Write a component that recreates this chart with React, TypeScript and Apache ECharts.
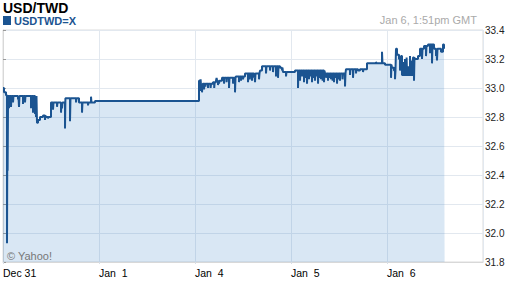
import React, { useEffect, useRef } from "react";
import * as echarts from "echarts";

// x values are trading hours since Dec 31 00:00 (weekend removed); 24 per trading day
const dayLabels = ["Dec 31", "Jan  1", "Jan  4", "Jan  5", "Jan  6"];
const yTicks = { min: 31.8, max: 33.4, step: 0.2 };

// step levels: [hour, rate]
const levelsDec31: [number, number][] = [
  [0, 33.0], [0.25, 32.97], [0.75, 32.95], [1.3, 32.945], [8.5, 32.76], [8.75, 32.78],
  [9.25, 32.8], [10, 32.81], [10.75, 32.8], [12, 32.9], [15.6, 32.93], [19, 32.9],
  [22.25, 32.9], [23, 32.91],
];
const levelsJan4: [number, number][] = [
  [49, 33.05], [49.5, 33.02], [50, 33.03], [52.5, 33.04], [53.25, 33.05], [54.75, 33.07],
  [58.25, 33.08], [60.5, 33.1], [64.25, 33.12], [64.75, 33.15], [69.25, 33.14], [70, 33.11],
];
const levelsJan5: [number, number][] = [
  [73, 33.12], [80.5, 33.1], [85.75, 33.13], [88.75, 33.12], [89.25, 33.13], [91, 33.17],
  [95.5, 33.16],
];
const levelsJan6: [number, number][] = [
  [97.25, 33.14], [97.75, 33.12], [98.25, 33.27], [98.5, 33.23], [99, 33.2], [99.5, 33.22],
  [99.75, 33.09], [102.5, 33.21], [103, 33.2], [103.75, 33.22], [104.25, 33.27],
  [105.25, 33.29], [106.25, 33.3], [107.75, 33.27], [109, 33.27], [109.5, 33.25],
  [110, 33.3], [110.25, 33.27], [110.4, 33.27],
];

// momentary ticks away from the level: [hour, rate]
const spikesDec31: [number, number][] = [
  [1.0, 31.93], [1.15, 32.43], [1.5, 32.86], [2.0, 32.87], [2.5, 32.9], [3.75, 32.92],
  [4.0, 32.87], [5.0, 32.89], [5.5, 32.9], [7.0, 32.86], [7.5, 32.83], [8.0, 32.82],
  [8.25, 32.8], [10.5, 32.78], [11.25, 32.79], [12.5, 32.85], [13.5, 32.87], [14.5, 32.83],
  [14.75, 32.86], [15.5, 32.72], [16.75, 32.77], [18.25, 32.9], [19.75, 32.83],
  [21.25, 32.88], [22.0, 32.94],
];
const spikesJan4: [number, number][] = [
  [49.25, 32.98], [49.4, 33.06], [49.75, 32.97], [50.25, 32.99], [50.6, 33.01], [51.25, 33.0],
  [51.9, 33.0], [52.8, 33.0], [53.4, 33.07], [53.75, 33.02], [54.0, 33.03], [55.25, 33.03],
  [55.9, 33.04], [56.5, 33.0], [57.5, 33.03], [58.0, 32.97], [59.0, 33.04], [59.5, 33.05],
  [60.0, 33.06], [61.25, 33.04], [61.7, 33.06], [62.25, 33.05], [62.8, 33.07], [63.0, 33.04],
  [64.0, 33.06], [65.75, 33.1], [66.75, 33.12], [67.5, 33.11], [68.25, 33.08], [68.75, 33.07],
  [69.75, 33.12], [70.75, 33.08],
];
const spikesJan5: [number, number][] = [
  [73.75, 33.0], [74.25, 33.05], [74.75, 33.08], [75.25, 33.04], [75.6, 33.07], [76.0, 33.03],
  [76.5, 33.06], [76.9, 33.08], [77.25, 33.04], [77.6, 33.07], [78.0, 33.05], [78.4, 33.08],
  [78.75, 33.03], [79.1, 33.07], [79.5, 33.06], [79.9, 33.05], [80.25, 33.04], [80.8, 33.07],
  [81.25, 33.05], [81.6, 33.07], [82.0, 33.06], [82.4, 33.05], [82.75, 33.04], [83.1, 33.07],
  [83.5, 33.03], [83.9, 33.06], [84.25, 33.05], [84.9, 33.06], [85.5, 33.01], [86.75, 33.09],
  [87.5, 33.07], [88.25, 33.1], [90.0, 33.11], [93.25, 33.18], [94.75, 33.25], [97.0, 33.07],
];
const spikesJan6: [number, number][] = [
  [98.0, 33.06], [99.25, 33.12], [100.1, 33.18], [100.5, 33.2], [100.9, 33.21], [101.4, 33.15],
  [101.75, 33.22], [102.1, 33.19], [102.75, 33.05], [104.75, 33.2], [105.75, 33.22],
  [106.75, 33.24], [107.25, 33.17], [108.25, 33.22], [108.5, 33.19],
];

const LINE = "#1b5491";

function buildSeries(): [number, number][] {
  const levels = [...levelsDec31, ...levelsJan4, ...levelsJan5, ...levelsJan6].sort((a, b) => a[0] - b[0]);
  const spikes = [...spikesDec31, ...spikesJan4, ...spikesJan5, ...spikesJan6];
  const levelAt = (h: number) => {
    let v = levels[0][1];
    for (const [t, val] of levels) {
      if (t <= h) v = val;
      else break;
    }
    return v;
  };
  const pts: [number, number][] = [...levels];
  for (const [h, v] of spikes) {
    pts.push([h, v]);
    pts.push([h + 0.12, levelAt(h + 0.12)]);
  }
  return pts.sort((a, b) => a[0] - b[0]);
}

export default function App() {
  const ref = useRef<HTMLDivElement>(null);
  useEffect(() => {
    if (!ref.current) return;
    const chart = echarts.init(ref.current, undefined, { renderer: "svg" });
    const font = "Liberation Sans, Arial, sans-serif";
    chart.setOption({
      animation: false,
      title: {
        text: "USD/TWD",
        left: 3,
        top: 1,
        padding: 0,
        textStyle: { fontFamily: font, fontSize: 14, fontWeight: "bold", color: "#000" },
      },
      legend: {
        left: 3,
        top: 15,
        padding: 0,
        itemWidth: 8,
        itemHeight: 9,
        itemGap: 4,
        data: [{ name: "USDTWD=X", icon: "rect", itemStyle: { color: LINE } }],
        textStyle: { fontFamily: font, fontSize: 11, fontWeight: "bold", color: LINE, padding: [0, 0, 0, -2] },
      },
      graphic: [
        {
          type: "text",
          right: 35,
          top: 14,
          style: { text: "Jan 6, 1:51pm GMT", fill: "#aaaaaa", font: `11px ${font}` },
        },
        {
          type: "text",
          left: 7,
          top: 250,
          z: 10,
          style: { text: "© Yahoo!", fill: "#777777", font: `11px ${font}` },
        },
      ],
      grid: {
        left: 3,
        right: 29,
        top: 30,
        bottom: 26,
        show: true,
        borderColor: "#dcdcdc",
        borderWidth: 1,
        backgroundColor: "transparent",
      },
      xAxis: {
        type: "value",
        min: 0,
        max: 120,
        interval: 24,
        axisLine: { show: true, lineStyle: { color: "#d8d8d8" } },
        axisTick: { show: true, length: 2, lineStyle: { color: "#d8dee6" } },
        splitLine: { show: true, lineStyle: { color: "#e2e8ef", width: 1 } },
        axisLabel: {
          fontFamily: font,
          fontSize: 10.5,
          color: "#000",
          align: "left",
          margin: 5,
          formatter: (v: number) => dayLabels[Math.round(v / 24)] ?? "",
          showMaxLabel: false,
        },
      },
      yAxis: {
        type: "value",
        position: "right",
        min: yTicks.min,
        max: yTicks.max,
        interval: yTicks.step,
        axisLine: { show: true, lineStyle: { color: "#d8d8d8" } },
        axisTick: { show: true, length: 3, inside: false, lineStyle: { color: "#999" } },
        splitLine: { show: true, lineStyle: { color: "#e2e8ef", width: 1 } },
        axisLabel: {
          fontFamily: font,
          fontSize: 10,
          color: "#222",
          margin: 2,
          formatter: (v: number) => v.toFixed(1),
        },
      },
      series: [
        {
          name: "USDTWD=X",
          type: "line",
          step: "end",
          showSymbol: false,
          symbol: "none",
          data: buildSeries(),
          lineStyle: { color: LINE, width: 2 },
          itemStyle: { color: LINE },
          areaStyle: { color: "rgba(61,133,198,0.28)", origin: "start" },
        },
      ],
    });
    return () => chart.dispose();
  }, []);
  return <div ref={ref} style={{ width: 512, height: 288, position: "absolute", left: 0, top: 0 }} />;
}
